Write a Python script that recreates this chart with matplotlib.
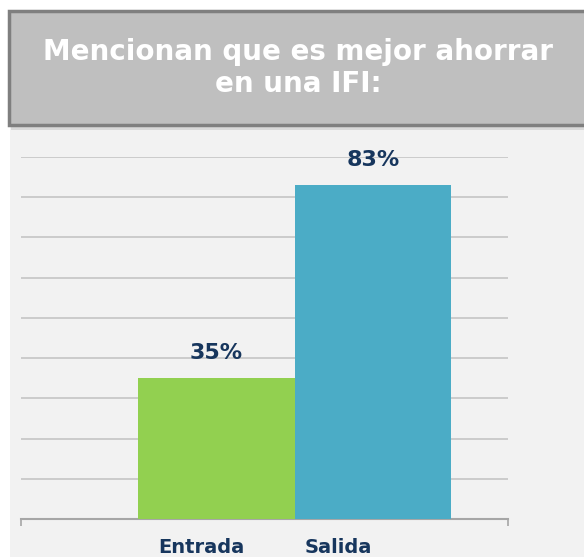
import matplotlib.pyplot as plt
from matplotlib.patches import Rectangle

# data
categories = ['Entrada', 'Salida']
values = [35, 83]
bar_colors = ['#92d050', '#4bacc6']
title_lines = 'Mencionan que es mejor ahorrar\nen una IFI:'

W, H = 584, 557
fig = plt.figure(figsize=(W / 100, H / 100), dpi=100)
fig.patch.set_facecolor('white')

def px(x, y, w, h):
    # pixel box (top-left origin) -> figure fraction
    return (x / W, 1 - (y + h) / H, w / W, h / H)

# light gray panel behind the chart
x0, y0, w0, h0 = px(10, 126, 580, 440)
fig.patches.append(Rectangle((x0, y0), w0, h0, transform=fig.transFigure,
                             facecolor='#f2f2f2', edgecolor='none', zorder=-5))

# title box with a small shadow
x0, y0, w0, h0 = px(11, 13, 590, 117)
fig.patches.append(Rectangle((x0, y0), w0, h0, transform=fig.transFigure,
                             facecolor='#d9d9d9', edgecolor='none', zorder=-4))
x0, y0, w0, h0 = px(9, 11, 590, 114)
fig.patches.append(Rectangle((x0, y0), w0, h0, transform=fig.transFigure,
                             facecolor='#bfbfbf', edgecolor='#7f7f7f',
                             linewidth=2.5, zorder=-3))
fig.text(298 / W, 1 - 68 / H, title_lines, ha='center', va='center',
         color='white', fontsize=20, fontweight='bold', linespacing=1.2)

ax = fig.add_axes(px(21, 157, 487, 362))
ax.set_facecolor('none')

x = [0, 1]
ax.bar(x, values, width=1.0, color=bar_colors, zorder=3)

ax.set_ylim(0, 90)
xmin, xmax = -1.248, 1.864
ax.set_xlim(xmin, xmax)
ax.set_yticks(range(10, 91, 10))
ax.yaxis.grid(True, color='#c8c8c8', linewidth=1.3, zorder=1)
ax.tick_params(axis='y', left=False, labelleft=False)
ax.set_xticks([xmin, xmax])
ax.set_xticklabels(['', ''])
ax.tick_params(axis='x', direction='out', length=5, width=1.2, color='#a6a6a6')
for s in ['top', 'right', 'left']:
    ax.spines[s].set_visible(False)
ax.spines['bottom'].set_color('#a6a6a6')
ax.spines['bottom'].set_linewidth(1.5)

navy = '#17365d'
for xi, v in zip(x, values):
    ax.annotate(f'{v}%', (xi, v), xytext=(0, 11), textcoords='offset points',
                ha='center', va='bottom', color=navy, fontsize=16,
                fontweight='bold')

label_x = [-0.097, 0.778]
for lx, c in zip(label_x, categories):
    ax.annotate(c, (lx, 0), xytext=(0, -14), textcoords='offset points',
                ha='center', va='top', color=navy, fontsize=14,
                fontweight='bold', annotation_clip=False)

fig.savefig('out.png', dpi=100)
